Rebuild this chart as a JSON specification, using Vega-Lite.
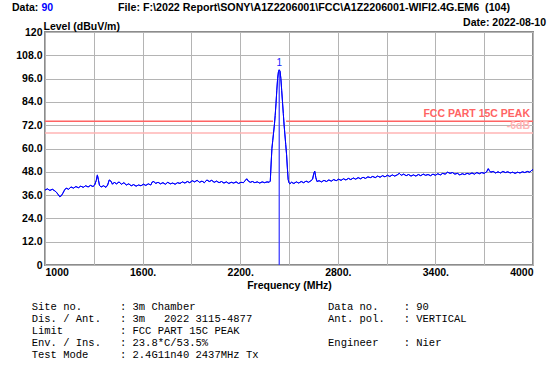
{
  "$schema": "https://vega.github.io/schema/vega-lite/v6.json",
  "width": 488,
  "height": 233,
  "autosize": {"type": "none"},
  "padding": {"left": 45, "top": 32, "right": 14, "bottom": 108},
  "background": "white",
  "config": {
    "view": {"stroke": "#8c8c8c", "strokeWidth": 2},
    "font": "Liberation Sans",
    "text": {"font": "Liberation Sans"},
    "axis": {
      "labelFont": "Liberation Sans", "labelFontWeight": "bold", "labelFontSize": 10.5, "labelColor": "#000000",
      "labelOverlap": false, "ticks": false, "domain": false, "grid": true,
      "gridColor": "#b4b4b4", "gridOpacity": 1, "gridWidth": 1,
      "titleFont": "Liberation Sans", "titleFontWeight": "bold", "titleFontSize": 10.5, "titleColor": "#000000"
    },
    "axisX": {"labelFlush": true, "labelPadding": 2, "titlePadding": 3},
    "axisY": {"labelPadding": 3, "titleAngle": 0, "titleAlign": "left", "titleBaseline": "middle", "titleX": -2, "titleY": -6}
  },
  "datasets": {
    "trace": [
      {"freq": 1000, "level": 38.6}, {"freq": 1015, "level": 39.2}, {"freq": 1030, "level": 38.4}, {"freq": 1045, "level": 39.0},
      {"freq": 1060, "level": 38.2}, {"freq": 1070, "level": 37.5}, {"freq": 1080, "level": 36.4}, {"freq": 1090, "level": 35.2},
      {"freq": 1100, "level": 35.6}, {"freq": 1110, "level": 37.0}, {"freq": 1120, "level": 38.6}, {"freq": 1130, "level": 39.6},
      {"freq": 1145, "level": 39.0}, {"freq": 1160, "level": 40.2}, {"freq": 1175, "level": 39.6}, {"freq": 1190, "level": 40.4},
      {"freq": 1205, "level": 39.8}, {"freq": 1220, "level": 40.6}, {"freq": 1235, "level": 40.0}, {"freq": 1250, "level": 40.8},
      {"freq": 1265, "level": 40.2}, {"freq": 1280, "level": 41.0}, {"freq": 1295, "level": 40.4}, {"freq": 1305, "level": 41.2},
      {"freq": 1315, "level": 43.5}, {"freq": 1322, "level": 46.4}, {"freq": 1328, "level": 44.0}, {"freq": 1335, "level": 41.0},
      {"freq": 1345, "level": 40.2}, {"freq": 1360, "level": 40.8}, {"freq": 1375, "level": 40.0}, {"freq": 1385, "level": 41.2},
      {"freq": 1395, "level": 43.8}, {"freq": 1405, "level": 43.2}, {"freq": 1415, "level": 41.6}, {"freq": 1425, "level": 42.6},
      {"freq": 1440, "level": 41.8}, {"freq": 1455, "level": 42.8}, {"freq": 1470, "level": 41.6}, {"freq": 1485, "level": 42.4},
      {"freq": 1500, "level": 41.2}, {"freq": 1515, "level": 41.8}, {"freq": 1530, "level": 40.8}, {"freq": 1545, "level": 41.4},
      {"freq": 1560, "level": 40.6}, {"freq": 1575, "level": 41.2}, {"freq": 1590, "level": 40.8}, {"freq": 1605, "level": 41.6},
      {"freq": 1620, "level": 41.0}, {"freq": 1635, "level": 41.8}, {"freq": 1650, "level": 41.2}, {"freq": 1660, "level": 42.8},
      {"freq": 1670, "level": 43.0}, {"freq": 1680, "level": 42.0}, {"freq": 1695, "level": 42.6}, {"freq": 1710, "level": 41.8},
      {"freq": 1725, "level": 42.4}, {"freq": 1740, "level": 41.6}, {"freq": 1755, "level": 42.6}, {"freq": 1770, "level": 41.8},
      {"freq": 1785, "level": 42.2}, {"freq": 1800, "level": 41.6}, {"freq": 1815, "level": 42.4}, {"freq": 1830, "level": 42.0},
      {"freq": 1845, "level": 42.8}, {"freq": 1860, "level": 42.2}, {"freq": 1875, "level": 43.0}, {"freq": 1890, "level": 42.4},
      {"freq": 1905, "level": 43.4}, {"freq": 1920, "level": 42.8}, {"freq": 1935, "level": 43.6}, {"freq": 1950, "level": 42.6},
      {"freq": 1965, "level": 43.2}, {"freq": 1980, "level": 42.4}, {"freq": 1995, "level": 43.8}, {"freq": 2010, "level": 43.0},
      {"freq": 2025, "level": 43.6}, {"freq": 2040, "level": 42.6}, {"freq": 2055, "level": 43.2}, {"freq": 2070, "level": 42.4},
      {"freq": 2085, "level": 43.0}, {"freq": 2100, "level": 42.2}, {"freq": 2115, "level": 42.8}, {"freq": 2130, "level": 42.0},
      {"freq": 2145, "level": 42.6}, {"freq": 2160, "level": 42.2}, {"freq": 2175, "level": 42.8}, {"freq": 2190, "level": 42.0},
      {"freq": 2205, "level": 42.6}, {"freq": 2220, "level": 42.4}, {"freq": 2232, "level": 43.6}, {"freq": 2240, "level": 44.4},
      {"freq": 2250, "level": 43.2}, {"freq": 2262, "level": 42.6}, {"freq": 2275, "level": 43.0}, {"freq": 2290, "level": 42.4},
      {"freq": 2305, "level": 42.8}, {"freq": 2320, "level": 42.2}, {"freq": 2335, "level": 42.8}, {"freq": 2350, "level": 42.4},
      {"freq": 2365, "level": 42.8}, {"freq": 2378, "level": 42.6}, {"freq": 2385, "level": 43.2}, {"freq": 2390, "level": 52.0},
      {"freq": 2395, "level": 60.0}, {"freq": 2400, "level": 64.0}, {"freq": 2405, "level": 68.0}, {"freq": 2410, "level": 72.0},
      {"freq": 2415, "level": 77.0}, {"freq": 2420, "level": 83.0}, {"freq": 2425, "level": 90.0}, {"freq": 2430, "level": 96.0},
      {"freq": 2435, "level": 99.5}, {"freq": 2440, "level": 100.5}, {"freq": 2445, "level": 99.8}, {"freq": 2450, "level": 96.0},
      {"freq": 2455, "level": 90.0}, {"freq": 2460, "level": 84.0}, {"freq": 2465, "level": 78.0}, {"freq": 2470, "level": 72.0},
      {"freq": 2475, "level": 67.0}, {"freq": 2480, "level": 62.0}, {"freq": 2485, "level": 57.0}, {"freq": 2490, "level": 50.0},
      {"freq": 2495, "level": 44.0}, {"freq": 2500, "level": 42.4}, {"freq": 2505, "level": 41.8}, {"freq": 2515, "level": 42.6},
      {"freq": 2530, "level": 42.0}, {"freq": 2545, "level": 42.8}, {"freq": 2560, "level": 42.2}, {"freq": 2575, "level": 43.0},
      {"freq": 2590, "level": 42.4}, {"freq": 2605, "level": 43.2}, {"freq": 2620, "level": 42.6}, {"freq": 2635, "level": 43.4},
      {"freq": 2645, "level": 44.2}, {"freq": 2652, "level": 47.0}, {"freq": 2658, "level": 48.4}, {"freq": 2665, "level": 45.0},
      {"freq": 2672, "level": 43.0}, {"freq": 2685, "level": 43.4}, {"freq": 2700, "level": 42.8}, {"freq": 2715, "level": 43.6},
      {"freq": 2730, "level": 43.0}, {"freq": 2745, "level": 43.8}, {"freq": 2760, "level": 43.2}, {"freq": 2775, "level": 44.0},
      {"freq": 2790, "level": 43.4}, {"freq": 2805, "level": 44.2}, {"freq": 2820, "level": 43.6}, {"freq": 2835, "level": 44.4},
      {"freq": 2850, "level": 43.8}, {"freq": 2865, "level": 44.6}, {"freq": 2880, "level": 44.0}, {"freq": 2895, "level": 44.8},
      {"freq": 2910, "level": 44.2}, {"freq": 2925, "level": 45.0}, {"freq": 2940, "level": 44.4}, {"freq": 2955, "level": 45.2},
      {"freq": 2970, "level": 44.6}, {"freq": 2985, "level": 45.4}, {"freq": 3000, "level": 45.0}, {"freq": 3015, "level": 45.6},
      {"freq": 3030, "level": 45.0}, {"freq": 3045, "level": 45.8}, {"freq": 3060, "level": 45.2}, {"freq": 3075, "level": 46.0},
      {"freq": 3090, "level": 45.4}, {"freq": 3105, "level": 46.2}, {"freq": 3120, "level": 45.6}, {"freq": 3135, "level": 46.4},
      {"freq": 3150, "level": 45.8}, {"freq": 3165, "level": 46.4}, {"freq": 3178, "level": 47.2}, {"freq": 3190, "level": 46.2},
      {"freq": 3205, "level": 46.8}, {"freq": 3220, "level": 46.0}, {"freq": 3235, "level": 46.6}, {"freq": 3250, "level": 45.8},
      {"freq": 3265, "level": 46.4}, {"freq": 3280, "level": 45.8}, {"freq": 3295, "level": 46.6}, {"freq": 3310, "level": 46.0},
      {"freq": 3325, "level": 46.8}, {"freq": 3340, "level": 46.2}, {"freq": 3355, "level": 46.6}, {"freq": 3370, "level": 46.0},
      {"freq": 3385, "level": 46.8}, {"freq": 3400, "level": 46.2}, {"freq": 3415, "level": 47.0}, {"freq": 3430, "level": 46.4},
      {"freq": 3445, "level": 47.2}, {"freq": 3460, "level": 46.8}, {"freq": 3475, "level": 47.8}, {"freq": 3490, "level": 47.2},
      {"freq": 3505, "level": 47.6}, {"freq": 3520, "level": 46.8}, {"freq": 3535, "level": 47.2}, {"freq": 3550, "level": 46.4},
      {"freq": 3565, "level": 47.0}, {"freq": 3580, "level": 46.6}, {"freq": 3595, "level": 47.2}, {"freq": 3610, "level": 46.8},
      {"freq": 3625, "level": 47.4}, {"freq": 3640, "level": 46.8}, {"freq": 3655, "level": 47.6}, {"freq": 3670, "level": 47.0},
      {"freq": 3685, "level": 47.6}, {"freq": 3700, "level": 47.2}, {"freq": 3715, "level": 48.0}, {"freq": 3725, "level": 49.6},
      {"freq": 3732, "level": 48.6}, {"freq": 3740, "level": 47.8}, {"freq": 3755, "level": 48.2}, {"freq": 3770, "level": 47.4},
      {"freq": 3785, "level": 48.0}, {"freq": 3800, "level": 47.4}, {"freq": 3815, "level": 48.2}, {"freq": 3830, "level": 47.6},
      {"freq": 3845, "level": 48.0}, {"freq": 3860, "level": 47.4}, {"freq": 3875, "level": 47.8}, {"freq": 3890, "level": 47.2},
      {"freq": 3905, "level": 47.8}, {"freq": 3920, "level": 47.4}, {"freq": 3935, "level": 48.0}, {"freq": 3950, "level": 47.6},
      {"freq": 3965, "level": 48.2}, {"freq": 3980, "level": 47.8}, {"freq": 3990, "level": 48.6}, {"freq": 4000, "level": 49.2}
    ],
    "limits": [
      {"name": "FCC PART 15C PEAK", "seg": "a1", "freq": 1000, "level": 74},
      {"name": "FCC PART 15C PEAK", "seg": "a1", "freq": 2402, "level": 74},
      {"name": "FCC PART 15C PEAK", "seg": "a2", "freq": 2482, "level": 74},
      {"name": "FCC PART 15C PEAK", "seg": "a2", "freq": 4000, "level": 74},
      {"name": "-6dB", "seg": "b1", "freq": 1000, "level": 68},
      {"name": "-6dB", "seg": "b1", "freq": 2402, "level": 68},
      {"name": "-6dB", "seg": "b2", "freq": 2482, "level": 68},
      {"name": "-6dB", "seg": "b2", "freq": 4000, "level": 68}
    ],
    "limitLabels": [
      {"name": "FCC PART 15C PEAK", "freq": 4000, "level": 74},
      {"name": "-6dB", "freq": 4000, "level": 68}
    ],
    "markers": [
      {"marker": "1", "freq": 2440, "level": 100.5}
    ]
  },
  "layer": [
    {
      "data": {"name": "trace"},
      "mark": {"type": "line", "color": "#0000ff", "strokeWidth": 1},
      "encoding": {
        "x": {"field": "freq", "type": "quantitative", "title": "Frequency (MHz)", "scale": {"domain": [1000, 4000], "nice": false, "zero": false},
              "axis": {"values": [1000, 1300, 1600, 1900, 2200, 2500, 2800, 3100, 3400, 3700, 4000], "labelExpr": "(datum.value - 1000) % 600 == 0 ? ((datum.value == 1000 || datum.value == 4000) ? toString(datum.value) : toString(datum.value) + '.') : ''"}},
        "y": {"field": "level", "type": "quantitative", "title": "Level (dBuV/m)", "scale": {"domain": [0, 120], "nice": false},
              "axis": {"values": [0, 12, 24, 36, 48, 60, 72, 84, 96, 108, 120], "labelExpr": "datum.value == 0 ? '0' : datum.value == 120 ? '120' : format(datum.value, '.1f')"}}
      }
    },
    {
      "data": {"name": "limits"},
      "mark": {"type": "line", "strokeWidth": 1.6},
      "encoding": {
        "x": {"field": "freq", "type": "quantitative", "title": "Frequency (MHz)",
              "axis": {"values": [1000, 1300, 1600, 1900, 2200, 2500, 2800, 3100, 3400, 3700, 4000], "labelExpr": "(datum.value - 1000) % 600 == 0 ? ((datum.value == 1000 || datum.value == 4000) ? toString(datum.value) : toString(datum.value) + '.') : ''"}},
        "y": {"field": "level", "type": "quantitative", "title": "Level (dBuV/m)",
              "axis": {"values": [0, 12, 24, 36, 48, 60, 72, 84, 96, 108, 120], "labelExpr": "datum.value == 0 ? '0' : datum.value == 120 ? '120' : format(datum.value, '.1f')"}},
        "detail": {"field": "seg", "type": "nominal"},
        "color": {"field": "name", "type": "nominal", "scale": {"domain": ["FCC PART 15C PEAK", "-6dB"], "range": ["#ff6464", "#ffb4b4"]}, "legend": null}
      }
    },
    {
      "data": {"name": "limitLabels"},
      "mark": {"type": "text", "align": "right", "baseline": "bottom", "dx": -3, "dy": -2, "fontWeight": "bold", "fontSize": 10.5},
      "encoding": {
        "x": {"field": "freq", "type": "quantitative", "title": "Frequency (MHz)",
              "axis": {"values": [1000, 1300, 1600, 1900, 2200, 2500, 2800, 3100, 3400, 3700, 4000], "labelExpr": "(datum.value - 1000) % 600 == 0 ? ((datum.value == 1000 || datum.value == 4000) ? toString(datum.value) : toString(datum.value) + '.') : ''"}},
        "y": {"field": "level", "type": "quantitative", "title": "Level (dBuV/m)",
              "axis": {"values": [0, 12, 24, 36, 48, 60, 72, 84, 96, 108, 120], "labelExpr": "datum.value == 0 ? '0' : datum.value == 120 ? '120' : format(datum.value, '.1f')"}},
        "text": {"field": "name", "type": "nominal"},
        "color": {"field": "name", "type": "nominal", "scale": {"domain": ["FCC PART 15C PEAK", "-6dB"], "range": ["#ff2a2a", "#ff9494"]}, "legend": null}
      }
    },
    {
      "data": {"name": "markers"},
      "mark": {"type": "rule", "color": "#4040ff", "strokeWidth": 1.3},
      "encoding": {
        "x": {"field": "freq", "type": "quantitative", "title": "Frequency (MHz)",
              "axis": {"values": [1000, 1300, 1600, 1900, 2200, 2500, 2800, 3100, 3400, 3700, 4000], "labelExpr": "(datum.value - 1000) % 600 == 0 ? ((datum.value == 1000 || datum.value == 4000) ? toString(datum.value) : toString(datum.value) + '.') : ''"}},
        "y": {"field": "level", "type": "quantitative", "title": "Level (dBuV/m)",
              "axis": {"values": [0, 12, 24, 36, 48, 60, 72, 84, 96, 108, 120], "labelExpr": "datum.value == 0 ? '0' : datum.value == 120 ? '120' : format(datum.value, '.1f')"}},
        "y2": {"datum": 0}
      }
    },
    {
      "data": {"name": "trace"},
      "mark": {"type": "line", "color": "#0000ff", "strokeWidth": 1},
      "encoding": {
        "x": {"field": "freq", "type": "quantitative", "title": "Frequency (MHz)",
              "axis": {"values": [1000, 1300, 1600, 1900, 2200, 2500, 2800, 3100, 3400, 3700, 4000], "labelExpr": "(datum.value - 1000) % 600 == 0 ? ((datum.value == 1000 || datum.value == 4000) ? toString(datum.value) : toString(datum.value) + '.') : ''"}},
        "y": {"field": "level", "type": "quantitative", "title": "Level (dBuV/m)",
              "axis": {"values": [0, 12, 24, 36, 48, 60, 72, 84, 96, 108, 120], "labelExpr": "datum.value == 0 ? '0' : datum.value == 120 ? '120' : format(datum.value, '.1f')"}}
      }
    },
    {
      "data": {"name": "markers"},
      "mark": {"type": "text", "color": "#2020ff", "fontSize": 10, "baseline": "bottom", "dy": -2},
      "encoding": {
        "x": {"field": "freq", "type": "quantitative", "title": "Frequency (MHz)",
              "axis": {"values": [1000, 1300, 1600, 1900, 2200, 2500, 2800, 3100, 3400, 3700, 4000], "labelExpr": "(datum.value - 1000) % 600 == 0 ? ((datum.value == 1000 || datum.value == 4000) ? toString(datum.value) : toString(datum.value) + '.') : ''"}},
        "y": {"field": "level", "type": "quantitative", "title": "Level (dBuV/m)",
              "axis": {"values": [0, 12, 24, 36, 48, 60, 72, 84, 96, 108, 120], "labelExpr": "datum.value == 0 ? '0' : datum.value == 120 ? '120' : format(datum.value, '.1f')"}},
        "text": {"field": "marker", "type": "nominal"}
      }
    },
    {
      "data": {"values": [{}]},
      "mark": {"type": "text", "align": "left", "baseline": "middle", "fontWeight": "bold", "fontSize": 10.5, "color": "#000000", "text": "Data:"},
      "encoding": {
        "x": {"datum": 797, "type": "quantitative", "title": "Frequency (MHz)",
              "axis": {"values": [1000, 1300, 1600, 1900, 2200, 2500, 2800, 3100, 3400, 3700, 4000], "labelExpr": "(datum.value - 1000) % 600 == 0 ? ((datum.value == 1000 || datum.value == 4000) ? toString(datum.value) : toString(datum.value) + '.') : ''"}},
        "y": {"datum": 132.2, "type": "quantitative", "title": "Level (dBuV/m)",
              "axis": {"values": [0, 12, 24, 36, 48, 60, 72, 84, 96, 108, 120], "labelExpr": "datum.value == 0 ? '0' : datum.value == 120 ? '120' : format(datum.value, '.1f')"}}
      }
    },
    {
      "data": {"values": [{}]},
      "mark": {"type": "text", "align": "left", "baseline": "middle", "fontWeight": "bold", "fontSize": 10.5, "color": "#0000ff", "text": "90"},
      "encoding": {
        "x": {"datum": 978, "type": "quantitative", "title": "Frequency (MHz)",
              "axis": {"values": [1000, 1300, 1600, 1900, 2200, 2500, 2800, 3100, 3400, 3700, 4000], "labelExpr": "(datum.value - 1000) % 600 == 0 ? ((datum.value == 1000 || datum.value == 4000) ? toString(datum.value) : toString(datum.value) + '.') : ''"}},
        "y": {"datum": 132.2, "type": "quantitative", "title": "Level (dBuV/m)",
              "axis": {"values": [0, 12, 24, 36, 48, 60, 72, 84, 96, 108, 120], "labelExpr": "datum.value == 0 ? '0' : datum.value == 120 ? '120' : format(datum.value, '.1f')"}}
      }
    },
    {
      "data": {"values": [{}]},
      "mark": {"type": "text", "align": "left", "baseline": "middle", "fontWeight": "bold", "fontSize": 10.7, "color": "#000000", "text": "File: F:\\2022 Report\\SONY\\A1Z2206001\\FCC\\A1Z2206001-WIFI2.4G.EM6\u00a0\u00a0(104)"},
      "encoding": {
        "x": {"datum": 1449, "type": "quantitative", "title": "Frequency (MHz)",
              "axis": {"values": [1000, 1300, 1600, 1900, 2200, 2500, 2800, 3100, 3400, 3700, 4000], "labelExpr": "(datum.value - 1000) % 600 == 0 ? ((datum.value == 1000 || datum.value == 4000) ? toString(datum.value) : toString(datum.value) + '.') : ''"}},
        "y": {"datum": 132.2, "type": "quantitative", "title": "Level (dBuV/m)",
              "axis": {"values": [0, 12, 24, 36, 48, 60, 72, 84, 96, 108, 120], "labelExpr": "datum.value == 0 ? '0' : datum.value == 120 ? '120' : format(datum.value, '.1f')"}}
      }
    },
    {
      "data": {"values": [{}]},
      "mark": {"type": "text", "align": "right", "baseline": "middle", "fontWeight": "bold", "fontSize": 10.5, "color": "#000000", "text": "Date: 2022-08-10"},
      "encoding": {
        "x": {"datum": 4080, "type": "quantitative", "title": "Frequency (MHz)",
              "axis": {"values": [1000, 1300, 1600, 1900, 2200, 2500, 2800, 3100, 3400, 3700, 4000], "labelExpr": "(datum.value - 1000) % 600 == 0 ? ((datum.value == 1000 || datum.value == 4000) ? toString(datum.value) : toString(datum.value) + '.') : ''"}},
        "y": {"datum": 124.5, "type": "quantitative", "title": "Level (dBuV/m)",
              "axis": {"values": [0, 12, 24, 36, 48, 60, 72, 84, 96, 108, 120], "labelExpr": "datum.value == 0 ? '0' : datum.value == 120 ? '120' : format(datum.value, '.1f')"}}
      }
    },
    {
      "data": {"values": [{}]},
      "mark": {
        "type": "text", "align": "left", "baseline": "top", "font": "Liberation Mono", "fontSize": 10.5, "lineHeight": 12, "color": "#000000",
        "text": [
          "Site no.\u00a0\u00a0\u00a0\u00a0\u00a0\u00a0:\u00a03m\u00a0Chamber",
          "Dis.\u00a0/\u00a0Ant.\u00a0\u00a0\u00a0:\u00a03m\u00a0\u00a0\u00a02022\u00a03115-4877",
          "Limit\u00a0\u00a0\u00a0\u00a0\u00a0\u00a0\u00a0\u00a0\u00a0:\u00a0FCC\u00a0PART\u00a015C\u00a0PEAK",
          "Env.\u00a0/\u00a0Ins.\u00a0\u00a0\u00a0:\u00a023.8*C/53.5%",
          "Test\u00a0Mode\u00a0\u00a0\u00a0\u00a0\u00a0:\u00a02.4G11n40\u00a02437MHz\u00a0Tx"
        ]
      },
      "encoding": {
        "x": {"datum": 918, "type": "quantitative", "title": "Frequency (MHz)",
              "axis": {"values": [1000, 1300, 1600, 1900, 2200, 2500, 2800, 3100, 3400, 3700, 4000], "labelExpr": "(datum.value - 1000) % 600 == 0 ? ((datum.value == 1000 || datum.value == 4000) ? toString(datum.value) : toString(datum.value) + '.') : ''"}},
        "y": {"datum": -19, "type": "quantitative", "title": "Level (dBuV/m)",
              "axis": {"values": [0, 12, 24, 36, 48, 60, 72, 84, 96, 108, 120], "labelExpr": "datum.value == 0 ? '0' : datum.value == 120 ? '120' : format(datum.value, '.1f')"}}
      }
    },
    {
      "data": {"values": [{}]},
      "mark": {
        "type": "text", "align": "left", "baseline": "top", "font": "Liberation Mono", "fontSize": 10.5, "lineHeight": 12, "color": "#000000",
        "text": [
          "Data\u00a0no.\u00a0\u00a0\u00a0\u00a0:\u00a090",
          "Ant.\u00a0pol.\u00a0\u00a0\u00a0:\u00a0VERTICAL"
        ]
      },
      "encoding": {
        "x": {"datum": 2740, "type": "quantitative", "title": "Frequency (MHz)",
              "axis": {"values": [1000, 1300, 1600, 1900, 2200, 2500, 2800, 3100, 3400, 3700, 4000], "labelExpr": "(datum.value - 1000) % 600 == 0 ? ((datum.value == 1000 || datum.value == 4000) ? toString(datum.value) : toString(datum.value) + '.') : ''"}},
        "y": {"datum": -19, "type": "quantitative", "title": "Level (dBuV/m)",
              "axis": {"values": [0, 12, 24, 36, 48, 60, 72, 84, 96, 108, 120], "labelExpr": "datum.value == 0 ? '0' : datum.value == 120 ? '120' : format(datum.value, '.1f')"}}
      }
    },
    {
      "data": {"values": [{}]},
      "mark": {
        "type": "text", "align": "left", "baseline": "top", "font": "Liberation Mono", "fontSize": 10.5, "color": "#000000",
        "text": "Engineer\u00a0\u00a0\u00a0\u00a0:\u00a0Nier"
      },
      "encoding": {
        "x": {"datum": 2740, "type": "quantitative", "title": "Frequency (MHz)",
              "axis": {"values": [1000, 1300, 1600, 1900, 2200, 2500, 2800, 3100, 3400, 3700, 4000], "labelExpr": "(datum.value - 1000) % 600 == 0 ? ((datum.value == 1000 || datum.value == 4000) ? toString(datum.value) : toString(datum.value) + '.') : ''"}},
        "y": {"datum": -37.54, "type": "quantitative", "title": "Level (dBuV/m)",
              "axis": {"values": [0, 12, 24, 36, 48, 60, 72, 84, 96, 108, 120], "labelExpr": "datum.value == 0 ? '0' : datum.value == 120 ? '120' : format(datum.value, '.1f')"}}
      }
    }
  ]
}
